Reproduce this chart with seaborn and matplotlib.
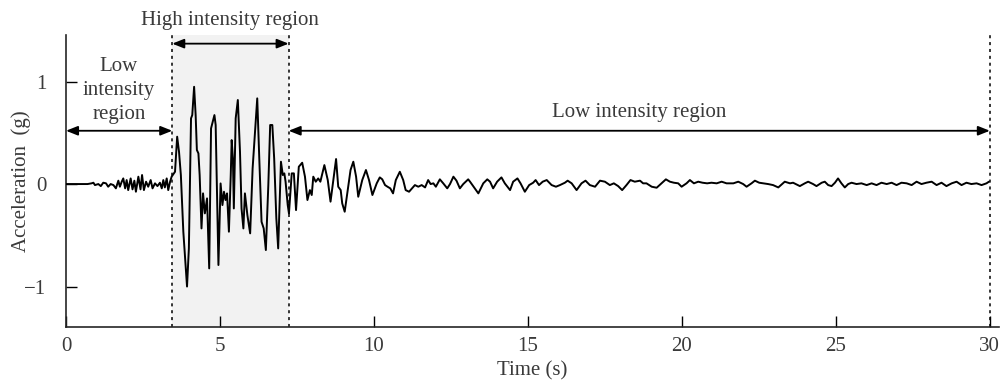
import numpy as np
import pandas as pd
import matplotlib
matplotlib.use("Agg")
import matplotlib.pyplot as plt
import seaborn as sns

sns.set_style("ticks")
plt.rcParams['font.family'] = ['Liberation Serif', 'DejaVu Serif']

# acceleration record: time (s), acceleration (g)
time = [
    0.00, 0.70, 0.83, 0.89, 0.94, 1.05, 1.13, 1.21, 1.30, 1.37, 1.45, 1.54,
    1.62, 1.70, 1.75, 1.81, 1.86, 1.92, 1.97, 2.02, 2.10, 2.16, 2.22, 2.27,
    2.35, 2.42, 2.47, 2.53, 2.60, 2.67, 2.75, 2.81, 2.89, 2.97, 3.05, 3.11,
    3.16, 3.21, 3.27, 3.32, 3.38, 3.43,
    # strong shaking
    3.54, 3.61, 3.67, 3.73, 3.81, 3.93, 3.99, 4.06, 4.10, 4.16, 4.21, 4.25,
    4.30, 4.34, 4.40, 4.45, 4.51, 4.58, 4.65, 4.71, 4.82, 4.86, 4.95, 5.02,
    5.08, 5.13, 5.18, 5.23, 5.29, 5.35, 5.38, 5.42, 5.45, 5.51, 5.58, 5.65,
    5.70, 5.76, 5.81, 5.89, 5.98, 6.06, 6.14, 6.21, 6.28, 6.35, 6.42, 6.49,
    6.57, 6.63, 6.70, 6.76, 6.83, 6.89, 6.98, 7.04, 7.09, 7.13, 7.20, 7.24,
    # decay
    7.33, 7.40, 7.47, 7.56, 7.67, 7.76, 7.84, 7.92, 7.98, 8.03, 8.11, 8.19,
    8.26, 8.39, 8.50, 8.59, 8.68, 8.77, 8.84, 8.92, 8.97, 9.05, 9.15, 9.24,
    9.33, 9.42, 9.49, 9.62, 9.74, 9.84, 9.95, 10.09, 10.19, 10.27, 10.36,
    10.44, 10.53, 10.62, 10.71, 10.84, 10.95, 11.03, 11.14,
    11.33, 11.44, 11.55, 11.66, 11.76, 11.84, 11.93, 12.01, 12.14, 12.25,
    12.38, 12.47, 12.58, 12.68, 12.79, 12.90, 13.06,
    13.12, 13.39, 13.55, 13.68, 13.77, 13.87, 14.00, 14.14, 14.25, 14.42,
    14.52, 14.66, 14.76, 14.90, 15.04, 15.17, 15.25, 15.36, 15.48, 15.61,
    15.77, 15.91, 16.04, 16.20, 16.29, 16.42, 16.58, 16.74, 16.87, 17.01,
    17.18, 17.34, 17.50, 17.66, 17.79, 17.93, 18.06, 18.20, 18.33, 18.47,
    18.64, 18.74, 18.85, 19.02, 19.18, 19.34, 19.48, 19.61, 19.74, 19.88,
    19.99, 20.15, 20.26, 20.39, 20.53, 20.67, 20.82, 20.96, 21.13, 21.29,
    21.45, 21.67, 21.83, 21.99, 22.10, 22.26, 22.37, 22.51, 22.64, 22.80,
    22.96, 23.13, 23.34, 23.51, 23.61, 23.83, 23.99, 24.10, 24.26, 24.37,
    24.54, 24.64, 24.75, 24.86, 24.97, 25.07, 25.18, 25.29, 25.40, 25.51,
    25.67, 25.83, 26.00, 26.16, 26.32, 26.48, 26.65, 26.81, 26.97, 27.13,
    27.30, 27.46, 27.62, 27.78, 27.94, 28.11, 28.27, 28.43, 28.59, 28.76,
    28.92, 29.08, 29.24, 29.40, 29.57, 29.73, 29.89, 29.97,
]
accel = [
    0.000, 0.000, 0.007, 0.013, -0.010, 0.000, -0.020, 0.013, 0.007, -0.026,
    0.000, -0.010, -0.042, 0.033, -0.026, 0.023, 0.055, -0.042, 0.039, -0.059,
    0.055, -0.052, 0.033, -0.075, 0.072, -0.052, 0.088, -0.059, 0.023, -0.026,
    0.039, -0.042, 0.007, -0.020, 0.013, -0.042, 0.039, -0.033, 0.055, -0.059,
    0.023, 0.072,
    0.120, 0.462, 0.315, 0.088, -0.465, -1.000, -0.628, 0.641, 0.673, 0.949,
    0.673, 0.332, 0.299, 0.088, -0.433, -0.091, -0.286, -0.140, -0.823, 0.543,
    0.673, 0.576, -0.790, 0.006, -0.205, -0.075, -0.156, -0.091, -0.465, 0.088,
    0.429, 0.250, -0.238, 0.641, 0.820, 0.315, -0.238, -0.433, -0.091, -0.303,
    -0.481, 0.153, 0.511, 0.836, 0.218, -0.368, -0.433, -0.644, -0.010, 0.576,
    0.576, 0.250, -0.335, -0.628, 0.218, 0.088, 0.104, 0.023, -0.205, -0.286,
    0.104, 0.104, -0.254, 0.169, 0.208, 0.072, -0.156, -0.059, -0.107, 0.072,
    0.023, 0.055, 0.023, 0.185, 0.039, -0.172, 0.039, 0.244, -0.026, -0.059,
    -0.189, -0.270, -0.059, 0.137, 0.218, 0.072, -0.124, 0.039, 0.137, 0.039,
    -0.107, 0.007, 0.065, 0.046, -0.010, -0.026, -0.042, -0.091, 0.039, 0.120,
    0.039, -0.059, -0.075,
    -0.010, -0.026, -0.010, -0.033, 0.039, 0.000, 0.007, -0.026, 0.046, 0.007,
    -0.042, 0.000, 0.072, 0.033, -0.042, 0.000, 0.046,
    0.023, -0.091, 0.007, 0.046, 0.023, -0.042, 0.023, 0.065, 0.007, -0.059,
    0.023, 0.055, 0.007, -0.075, -0.010, 0.013, 0.039, -0.010, 0.023, 0.039,
    -0.010, -0.026, -0.010, 0.013, 0.033, 0.007, -0.059, 0.007, 0.033, -0.010,
    -0.026, 0.033, 0.023, -0.010, 0.007, -0.020, -0.059, -0.010, 0.039, 0.023,
    0.033, 0.007, 0.007, -0.026, -0.036, 0.007, 0.046, 0.023, 0.013, 0.007,
    -0.026, 0.007, 0.039, 0.007, 0.023, 0.013, 0.007, 0.013, 0.007, 0.023,
    0.007, 0.007, 0.023, 0.000, -0.026, 0.007, 0.033, 0.013, 0.007, 0.000,
    -0.010, -0.033, 0.023, 0.007, 0.013, -0.020, 0.007, 0.023, 0.000, -0.020,
    0.013, 0.023, -0.010, -0.020, 0.013, 0.055, 0.007, -0.033, 0.000, 0.013,
    0.000, 0.007, -0.010, 0.007, -0.010, 0.013, 0.000, 0.013, -0.010, 0.013,
    0.007, -0.010, 0.023, 0.000, 0.013, 0.023, -0.010, 0.013, -0.020, 0.007,
    0.023, -0.010, 0.013, 0.000, 0.007, -0.010, 0.007, 0.023,
]

# region boundaries (s)
high_start = 3.45
high_end = 7.23
t_end = 30.0

df = pd.DataFrame({"time": time, "accel": accel})

fig = plt.figure(figsize=(10.03, 3.85), dpi=100)
ax = fig.add_axes([0.0658, 0.1506, 0.930, 0.7584])

text_col = '#3a3a3a'

ax.axvspan(high_start, high_end, color='#f2f2f2', zorder=0, lw=0)
for xv in [high_start, high_end, t_end]:
    ax.axvline(xv, color='black', linestyle=(0, (2, 2.5)), lw=1.1, zorder=1)

sns.lineplot(data=df, x="time", y="accel", sort=False, estimator=None,
             color='black', lw=1.4, ax=ax, zorder=3)

ax.set_xlim(0, 30.29)
ax.set_ylim(-1.395, 1.454)
ax.set_xticks(np.arange(0, 31, 5))
ax.set_yticks([-1, 0, 1])
ax.tick_params(direction='in', length=8, width=1, labelsize=15,
               colors='black', labelcolor=text_col)
ax.tick_params(axis='y', pad=14)
ax.tick_params(axis='x', pad=7)
for s in ['top', 'right']:
    ax.spines[s].set_visible(False)
for s in ['left', 'bottom']:
    ax.spines[s].set_linewidth(1.2)

ax.set_xlabel('Time (s)', fontsize=15, color=text_col, labelpad=4)
ax.set_ylabel('Acceleration  (g)', fontsize=15, color=text_col)
ax.yaxis.set_label_coords(-0.037, 0.5)

arrow = dict(arrowstyle='<|-|>,head_length=0.5,head_width=0.2',
             color='black', lw=1.3, shrinkA=0, shrinkB=0, mutation_scale=14)
ax.annotate('', xy=(0, 0.52), xytext=(high_start, 0.52), arrowprops=arrow,
            annotation_clip=False)
ax.annotate('', xy=(high_start, 1.37), xytext=(high_end, 1.37),
            arrowprops=arrow, annotation_clip=False)
ax.annotate('', xy=(high_end, 0.52), xytext=(t_end, 0.52), arrowprops=arrow,
            annotation_clip=False)

ax.text(1.72, 0.91, 'Low\nintensity\nregion', ha='center', va='center',
        fontsize=15, color=text_col, linespacing=1.35)
ax.text(5.32, 1.60, 'High intensity region', ha='center', va='center',
        fontsize=15, color=text_col, clip_on=False)
ax.text(18.6, 0.70, 'Low intensity region', ha='center', va='center',
        fontsize=15, color=text_col)

plt.savefig('out.png', dpi=100)
